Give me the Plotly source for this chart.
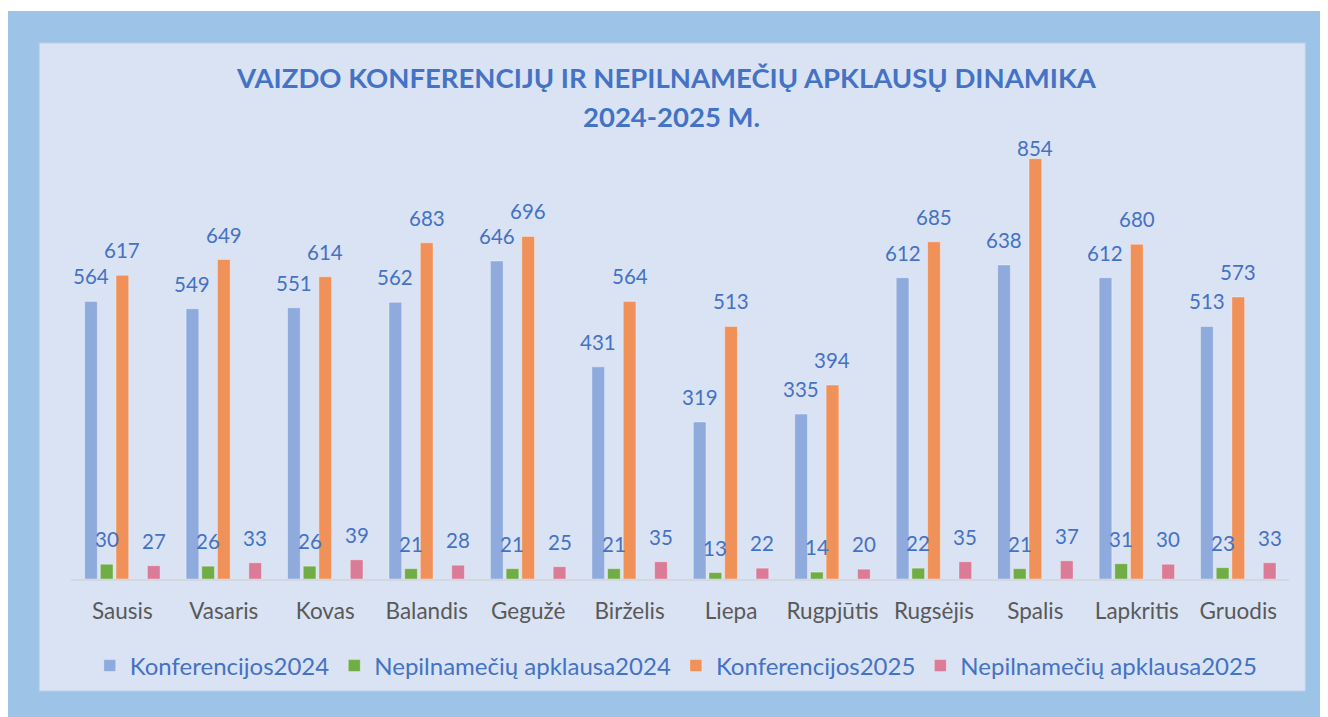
import plotly.graph_objects as go

months = ["Sausis", "Vasaris", "Kovas", "Balandis", "Gegužė", "Birželis",
          "Liepa", "Rugpjūtis", "Rugsėjis", "Spalis", "Lapkritis", "Gruodis"]
konf_2024 = [564, 549, 551, 562, 646, 431, 319, 335, 612, 638, 612, 513]
nepiln_2024 = [30, 26, 26, 21, 21, 21, 13, 14, 22, 21, 31, 23]
konf_2025 = [617, 649, 614, 683, 696, 564, 513, 394, 685, 854, 680, 573]
nepiln_2025 = [27, 33, 39, 28, 25, 35, 22, 20, 35, 37, 30, 33]

title_line1 = "VAIZDO KONFERENCIJŲ IR NEPILNAMEČIŲ APKLAUSŲ DINAMIKA"
title_line2 = "2024-2025 M."

series = [
    ("Konferencijos2024", konf_2024, "#8FAADC", 0),
    ("Nepilnamečių apklausa2024", nepiln_2024, "#70AD47", 1),
    ("Konferencijos2025", konf_2025, "#F0915A", 2),
    ("Nepilnamečių apklausa2025", nepiln_2025, "#DA7B97", 4),
]

# the page body adds an 8px offset; all page positions below are shifted by it
OFF = 8
W, H = 1328, 717
L = 70.75 - OFF
R = W - (1288.75 - OFF)
T = 136 - OFF
B = H - (579 - OFF)
PW, PH = W - L - R, H - T - B
YMAX = 900
BARGAP = 0.227
NSLOT = 5

FONT = "Lato"
TXT = "#4472C4"

fig = go.Figure()
for name, vals, color, slot in series:
    fig.add_trace(go.Bar(
        name=name, x=months, y=vals,
        marker=dict(color=color, line=dict(color="rgba(255,255,255,0.35)", width=1)),
        offsetgroup=str(slot),
    ))
    if slot == 2:
        # empty slot between Konferencijos2025 and Nepilnamečių apklausa2025
        fig.add_trace(go.Bar(name="", x=months, y=[None] * len(months),
                             offsetgroup="3", showlegend=False, hoverinfo="skip"))

fig.data = tuple(sorted(fig.data, key=lambda t: int(t.offsetgroup)))

def px_x(p):  # page pixel -> paper fraction
    return (p - OFF - L) / PW

def px_y(p):
    return (H - B - (p - OFF)) / PH

annotations = []
slot_w = (1 - BARGAP) / NSLOT
for name, vals, color, slot in series:
    for j, v in enumerate(vals):
        # labels sit above the bar, but are kept inside the plot area
        shift = min(25, (YMAX - v) * PH / YMAX - 12.5)
        annotations.append(dict(
            x=j + (slot - (NSLOT - 1) / 2) * slot_w, y=v, xref="x", yref="y",
            text=str(v), showarrow=False, yanchor="middle", yshift=shift,
            font=dict(family=FONT, size=20.5, color=TXT),
        ))

for txt, cx, cy in [(title_line1, 666, 77), (title_line2, 671, 117)]:
    annotations.append(dict(
        x=px_x(cx), y=px_y(cy), xref="paper", yref="paper",
        xanchor="center", yanchor="middle", showarrow=False, text=txt,
        font=dict(family=FONT, size=27.5, color=TXT, weight="bold"),
    ))

shapes = [
    dict(type="rect", xref="paper", yref="paper", layer="below",
         x0=px_x(0), x1=px_x(1345), y0=px_y(11), y1=px_y(740),
         fillcolor="#9DC3E6", line=dict(width=0)),
    dict(type="rect", xref="paper", yref="paper", layer="below",
         x0=px_x(39), x1=px_x(1305), y0=px_y(43), y1=px_y(691),
         fillcolor="#DAE3F3", line=dict(color="#BCCFEA", width=1)),
]

fig.update_layout(
    width=W, height=H,
    margin=dict(l=L, r=R, t=T, b=B, pad=0),
    paper_bgcolor="white", plot_bgcolor="rgba(0,0,0,0)",
    barmode="group", bargap=BARGAP, bargroupgap=0.19,
    xaxis=dict(
        showline=True, linecolor="#D3D7DF", linewidth=1.5,
        showgrid=False, zeroline=False, ticks="",
        tickfont=dict(family=FONT, size=22.5, color="#595959"),
        ticklabelstandoff=11,
    ),
    yaxis=dict(range=[0, YMAX], visible=False, showgrid=False, zeroline=False),
    legend=dict(
        orientation="h", x=px_x(676), xanchor="center",
        y=px_y(666), yanchor="middle",
        font=dict(family=FONT, size=24, color=TXT),
        bgcolor="rgba(0,0,0,0)", traceorder="normal",
    ),
    showlegend=True,
    annotations=annotations,
    shapes=shapes,
)

fig.write_html("out.html")
